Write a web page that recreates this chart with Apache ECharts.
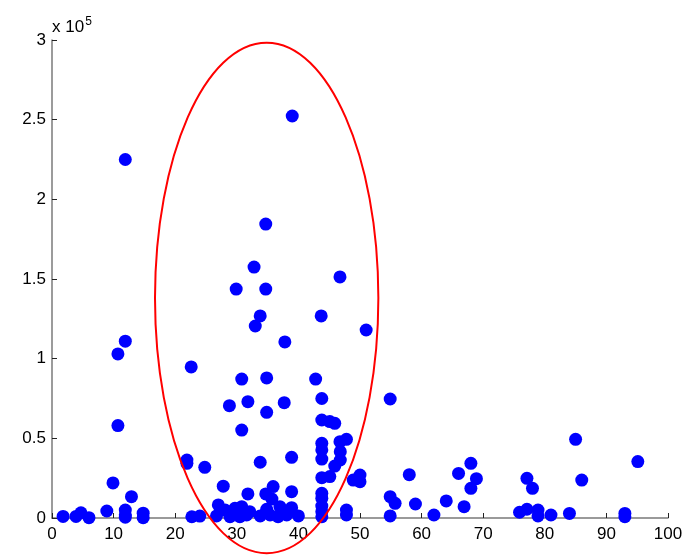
<!DOCTYPE html>
<html lang="en" style="height: 100%">
<head>
  <meta charset="utf-8">
</head>
<body style="height: 100%; margin: 0">
  <div id="container" style="width: 689px; height: 555px"></div>

  <script type="text/javascript" src="https://cdn.jsdelivr.net/npm/echarts@6/dist/echarts.min.js"></script>

  <script type="text/javascript">
    // point coordinates
    var xs = [
      1.8, 3.9, 4.7, 6.0, 8.9, 9.9, 10.7, 10.7, 11.9, 11.9, 11.9, 11.9, 11.9, 12.9, 14.8, 14.8,
      21.9, 21.9, 22.7, 22.6, 24.0, 24.8, 27.8, 27.0, 26.7, 28.1, 28.8, 28.9, 29.7, 29.9,
      30.5, 30.8, 30.8, 30.8, 31.6, 31.8, 31.8, 32.1, 32.8, 33.0, 33.8, 33.8, 33.8,
      34.7, 34.7, 34.85, 34.85, 34.7, 34.85, 35.4, 35.7, 35.9, 36.7, 37.0, 37.8, 37.7, 38.1,
      38.9, 38.9, 38.9, 39.0, 40.0, 42.8, 43.7,
      43.8, 43.8, 43.8, 43.8, 43.8, 43.8, 43.8, 43.8, 43.8, 43.8, 43.8,
      45.1, 45.9, 45.1, 45.9, 46.75, 46.75, 46.8, 46.8, 47.8, 47.8, 47.8, 48.9, 50.0, 50.0, 51.0,
      54.9, 54.9, 55.7, 54.9, 58.0, 59.0, 62.0, 64.0, 66.0, 66.9, 68.0, 68.9, 68.0,
      75.9, 77.1, 77.1, 78.0, 78.9, 78.9, 81.0, 84.0, 85.0, 86.0, 93.0, 93.0, 95.1
    ];
    var ys = [
      1000, 1000, 3300, 200, 4400, 22000, 58000, 103000, 111000, 225000, 5000, 2000, 500, 13400, 3000, 200,
      36400, 34300, 800, 94800, 1200, 31800, 20000, 8200, 1300, 5000, 70500, 800, 6100, 143700,
      800, 55200, 87200, 7100, 1900, 73000, 15100, 4000, 157500, 120500, 126800, 35000, 1300,
      184500, 143700, 87900, 66300, 15100, 5500, 1900, 11900, 19700, 800, 7100, 110500, 72400, 1900,
      38100, 16500, 6500, 252300, 1300, 87200, 126800,
      75000, 61500, 46900, 42700, 37000, 25300, 15500, 12400, 7500, 4000, 800,
      60500, 59400, 26000, 32600, 151300, 47900, 41600, 36400, 49400, 5000, 1900, 23800, 27000, 22800, 118000,
      74700, 13400, 9200, 1300, 27200, 8800, 1900, 10700, 28000, 7100, 34300, 24700, 18600,
      3600, 5500, 24900, 18600, 5000, 1300, 1900, 2900, 49400, 23800, 2900, 800, 35400
    ];
    // highlighted region: centre x, centre y, half width, half height
    var ellipse = [34.85, 138100, 18.13, 160200];

    var points = xs.map(function (x, i) { return [x, ys[i]]; });

    var dom = document.getElementById('container');
    var myChart = echarts.init(dom, null, { renderer: 'canvas' });

    var axisLabelStyle = {
      color: '#000',
      fontFamily: 'Liberation Sans',
      fontSize: 17
    };

    var option = {
      animation: false,
      backgroundColor: '#fff',
      grid: { left: 52, right: 21, top: 40, bottom: 37 },
      xAxis: {
        type: 'value',
        min: 0,
        max: 100,
        interval: 10,
        axisLine: { lineStyle: { color: '#7a7a7a', width: 1.5 } },
        axisTick: { inside: true, length: 5, lineStyle: { color: '#222' } },
        axisLabel: Object.assign({ margin: 8 }, axisLabelStyle),
        splitLine: { show: false }
      },
      yAxis: {
        type: 'value',
        min: 0,
        max: 300000,
        interval: 50000,
        name: '{a|x 10}{b|5}',
        nameLocation: 'end',
        nameGap: 2,
        nameTextStyle: {
          align: 'left',
          verticalAlign: 'bottom',
          rich: {
            a: { fontFamily: 'Liberation Sans', fontSize: 17, color: '#000' },
            b: { fontFamily: 'Liberation Sans', fontSize: 12, color: '#000', padding: [0, 0, 10, 1] }
          }
        },
        axisLine: { lineStyle: { color: '#7a7a7a', width: 1.5 } },
        axisTick: { inside: true, length: 5, lineStyle: { color: '#222' } },
        axisLabel: Object.assign({
          margin: 6,
          formatter: function (v) { return String(v / 100000); }
        }, axisLabelStyle),
        splitLine: { show: false }
      },
      series: [
        {
          type: 'scatter',
          symbolSize: 13,
          itemStyle: { color: '#0000ff', opacity: 1 },
          data: points
        },
        {
          type: 'custom',
          clip: false,
          z: 5,
          renderItem: function (params, api) {
            var c = api.coord([api.value(0), api.value(1)]);
            var s = api.size([api.value(2), api.value(3)]);
            return {
              type: 'ellipse',
              shape: { cx: c[0], cy: c[1], rx: s[0], ry: s[1] },
              style: { fill: 'none', stroke: '#ff0000', lineWidth: 2 }
            };
          },
          data: [ellipse]
        }
      ]
    };

    myChart.setOption(option);
    window.addEventListener('resize', myChart.resize);
  </script>
</body>
</html>
